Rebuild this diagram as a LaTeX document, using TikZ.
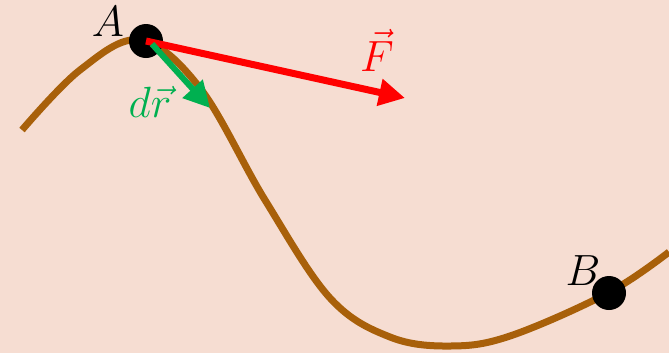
\documentclass[tikz,border=0pt]{standalone}
\usetikzlibrary{arrows.meta}
\definecolor{bgc}{HTML}{F6DDD2}
\definecolor{curvec}{HTML}{A8600A}
\definecolor{gr}{HTML}{00B050}
\tikzset{
  dotnode/.style={circle, fill=black, inner sep=0pt, minimum size=34*0.02cm},
  lbl/.style={font=\fontsize{26}{30}\selectfont, inner sep=0pt},
  vec/.style={line width=7*0.02cm, -{Triangle[length=26*0.02cm, width=26*0.02cm]}}
}
\begin{document}
\begin{tikzpicture}[x=0.02cm, y=-0.02cm]
\fill[bgc] (0,0) rectangle (669,353);
\useasboundingbox (0,0) rectangle (669,353);
\draw[curvec, line width=7*0.02cm] plot[smooth, tension=0.6] coordinates
 {(22,130) (80,70) (140,40) (200,88) (265,200) (330,298) (390,337) (450,346) (510,336) (608,293) (669,252)};
\node[dotnode] (A) at (146,41) {};
\node[dotnode] (B) at (609,293) {};
\coordinate (Ftip) at (405,98);
\coordinate (rtip) at (210,108);
\draw[red, vec] (A.center) -- (Ftip);
\draw[gr, vec, line width=6*0.02cm] (A.center) ++(6,3) coordinate (rs) -- (rtip);
\node[lbl] (la) at (108,22) {$A$};
\node[lbl] (lb) at (583,271) {$B$};
\node[lbl, red] (lf) at (377,50) {$\vec{F}$};
\node[lbl, gr] (lr) at (150,102) {$d\vec{r}$};
\end{tikzpicture}
\end{document}
